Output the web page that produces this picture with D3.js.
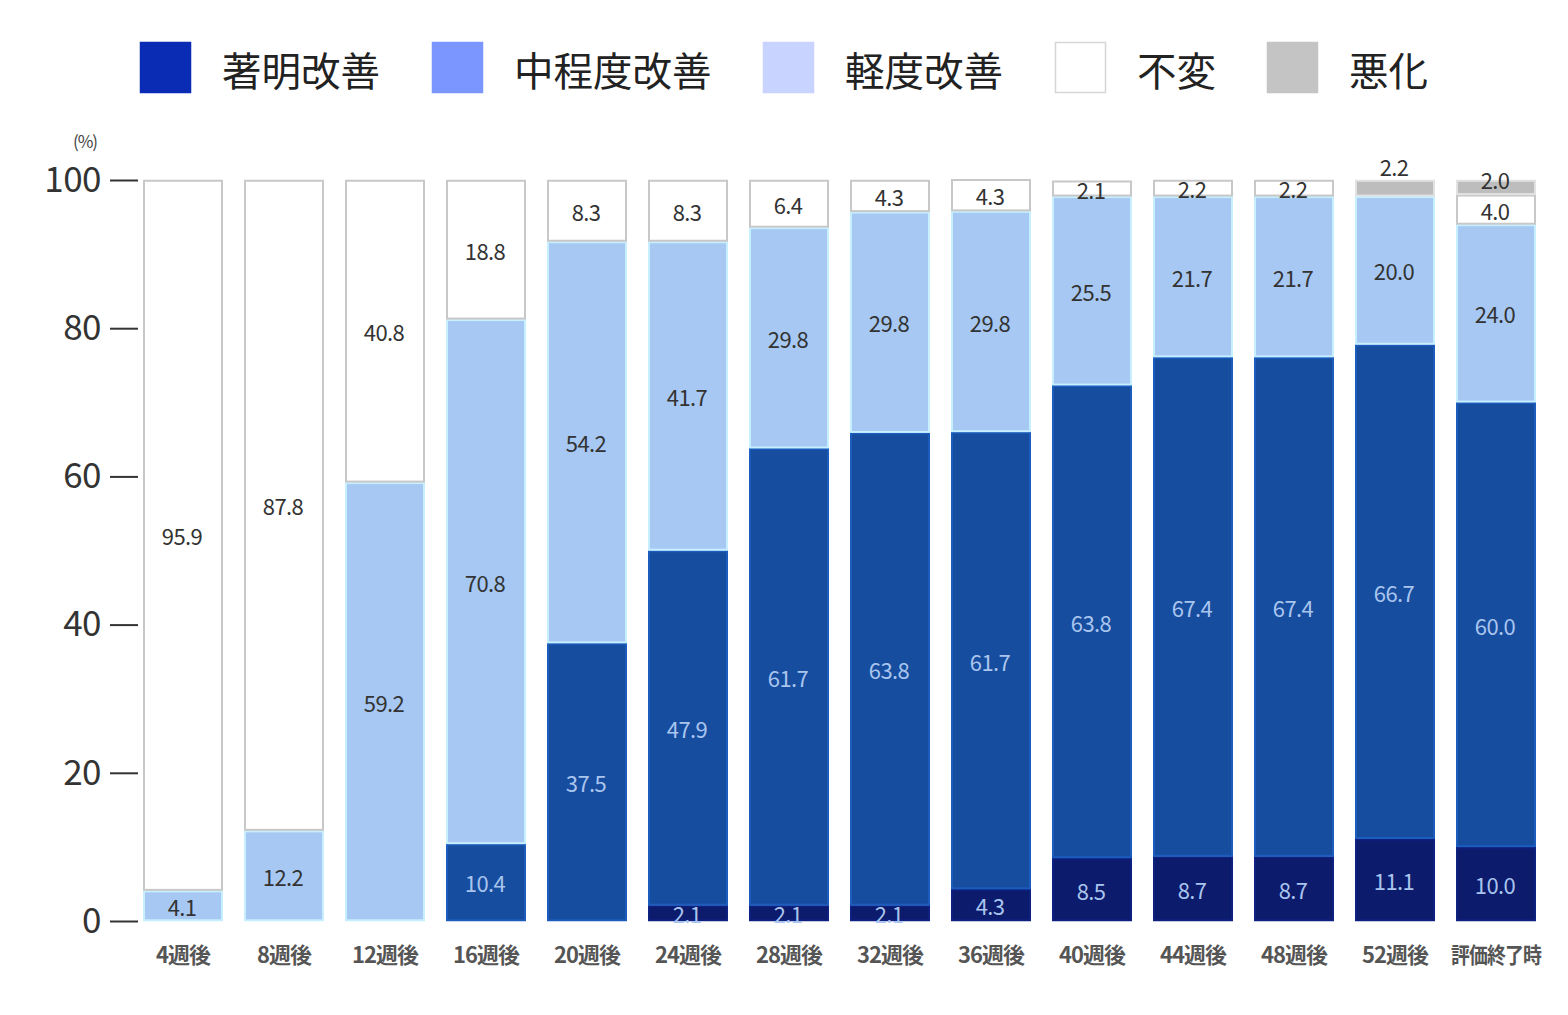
<!DOCTYPE html>
<html>
<head>
<meta charset="utf-8">
<script src="https://cdn.jsdelivr.net/npm/d3@7/dist/d3.min.js"></script>
<style>
  html, body { margin: 0; padding: 0; background: #ffffff; }
  svg { display: block; }
</style>
</head>
<body>
<svg id="chart" width="1568" height="1015"></svg>
<script>
// ---- Data ----
const categories = ["4週後","8週後","12週後","16週後","20週後","24週後","28週後","32週後","36週後","40週後","44週後","48週後","52週後","評価終了時"];
const seriesNames = ["著明改善","中程度改善","軽度改善","不変","悪化"];
const marked   = [0, 0, 0, 0, 0, 2.1, 2.1, 2.1, 4.3, 8.5, 8.7, 8.7, 11.1, 10.0];
const moderate = [0, 0, 0, 10.4, 37.5, 47.9, 61.7, 63.8, 61.7, 63.8, 67.4, 67.4, 66.7, 60.0];
const mild     = [4.1, 12.2, 59.2, 70.8, 54.2, 41.7, 29.8, 29.8, 29.8, 25.5, 21.7, 21.7, 20.0, 24.0];
const unchanged= [95.9, 87.8, 40.8, 18.8, 8.3, 8.3, 6.4, 4.3, 4.3, 2.1, 2.2, 2.2, 0, 4.0];
const worse    = [0, 0, 0, 0, 0, 0, 0, 0, 0, 0, 0, 0, 2.2, 2.0];
const yTicks = [0, 20, 40, 60, 80, 100];

// ---- Styles ----
const barColors = ["#0c1b6b", "#174d9e", "#a6c8f2", "#ffffff", "#bdbdbd"];
const legendColors = ["#0a2cb5", "#7b96ff", "#c8d4ff", "#ffffff", "#c4c4c4"];
const labelDark = "#333333";
const labelLight = "#a9c5ee";
const labelShift = { "52週後|悪化": -22, "評価終了時|悪化": -8 };

const svg = d3.select("#chart");
const FONT = "'Noto Sans CJK JP', 'Noto Sans', sans-serif";

const table = categories.map((c, i) => ({
  cat: c,
  "著明改善": marked[i], "中程度改善": moderate[i], "軽度改善": mild[i], "不変": unchanged[i], "悪化": worse[i]
}));
const stacked = d3.stack().keys(seriesNames)(table);

const x = d3.scaleBand().domain(categories).range([132.5, 1546.5]).paddingInner(0.208).paddingOuter(0.104);
const y = d3.scaleLinear().domain([0, 100]).range([921, 180]);
const color = d3.scaleOrdinal().domain(seriesNames).range(barColors);
const lcolor = d3.scaleOrdinal().domain(seriesNames).range(legendColors);

// ---- Legend ----
const legendX = [140, 432, 763, 1055, 1267];
const legend = svg.append("g");
seriesNames.forEach((s, i) => {
  legend.append("rect")
    .attr("x", legendX[i] + 0.5).attr("y", 42.5).attr("width", 50).attr("height", 50)
    .attr("fill", lcolor(s))
    .attr("stroke", s === "不変" ? "#d6d6d6" : lcolor(s)).attr("stroke-width", 1.5);
  legend.append("text")
    .attr("x", legendX[i] + 82).attr("y", 68)
    .attr("dominant-baseline", "central")
    .attr("font-family", FONT).attr("font-size", 39.5).attr("fill", "#222")
    .text(s);
});

// ---- Bars ----
const layers = svg.append("g").selectAll("g").data(stacked).join("g");
layers.selectAll("rect")
  .data(d => d.map(v => ({ key: d.key, v })))
  .join("rect")
  .filter(d => d.v[1] - d.v[0] > 0)
  .attr("x", d => x(d.v.data.cat) + 1)
  .attr("width", x.bandwidth() - 2)
  .attr("y", d => y(d.v[1]) + 0.75)
  .attr("height", d => Math.max(0, y(d.v[0]) - y(d.v[1]) - 1.5))
  .attr("fill", d => color(d.key))
  .attr("stroke", d => d.key === "不変" ? "#c8c8c8" : d3.color(color(d.key)).brighter(0.5))
  .attr("stroke-width", 2);

// ---- Value labels ----
const labels = svg.append("g");
stacked.forEach(layer => {
  layer.forEach(v => {
    const val = v[1] - v[0];
    if (val <= 0) return;
    const key = layer.key;
    const cat = v.data.cat;
    let cy = (y(v[0]) + y(v[1])) / 2 + (labelShift[cat + "|" + key] || 0);
    const dark = key === "著明改善" || key === "中程度改善";
    labels.append("text")
      .attr("x", x(cat) + x.bandwidth() / 2 - 1)
      .attr("y", cy)
      .attr("text-anchor", "middle")
      .attr("dominant-baseline", "central")
      .attr("font-family", FONT).attr("font-size", 22)
      .attr("letter-spacing", -0.6)
      .attr("fill", dark ? labelLight : labelDark)
      .text(val.toFixed(1));
  });
});

// ---- Y axis ----
const yAxis = svg.append("g").attr("transform", "translate(138,0)")
  .call(d3.axisLeft(y).tickValues(yTicks).tickSize(28).tickPadding(9));
yAxis.select(".domain").remove();
yAxis.selectAll(".tick line").attr("stroke", "#333").attr("stroke-width", 2);
yAxis.selectAll(".tick text")
  .attr("font-family", FONT).attr("font-size", 35).attr("fill", "#333")
  .attr("letter-spacing", -0.5);

svg.append("text")
  .attr("x", 85).attr("y", 140)
  .attr("text-anchor", "middle").attr("dominant-baseline", "central")
  .attr("font-family", FONT).attr("font-size", 17).attr("letter-spacing", -1)
  .attr("fill", "#444")
  .text("(%)");

// ---- X axis labels ----
const xl = svg.append("g");
categories.forEach(c => {
  const t = xl.append("text")
    .attr("x", x(c) + x.bandwidth() / 2)
    .attr("y", 953)
    .attr("text-anchor", "middle").attr("dominant-baseline", "central")
    .attr("font-family", FONT).attr("font-size", 22).attr("font-weight", 700)
    .attr("letter-spacing", -1)
    .attr("fill", "#555")
    .text(c);
  if (c.length > 4) t.attr("textLength", 90).attr("lengthAdjust", "spacingAndGlyphs");
});
</script>
</body>
</html>
